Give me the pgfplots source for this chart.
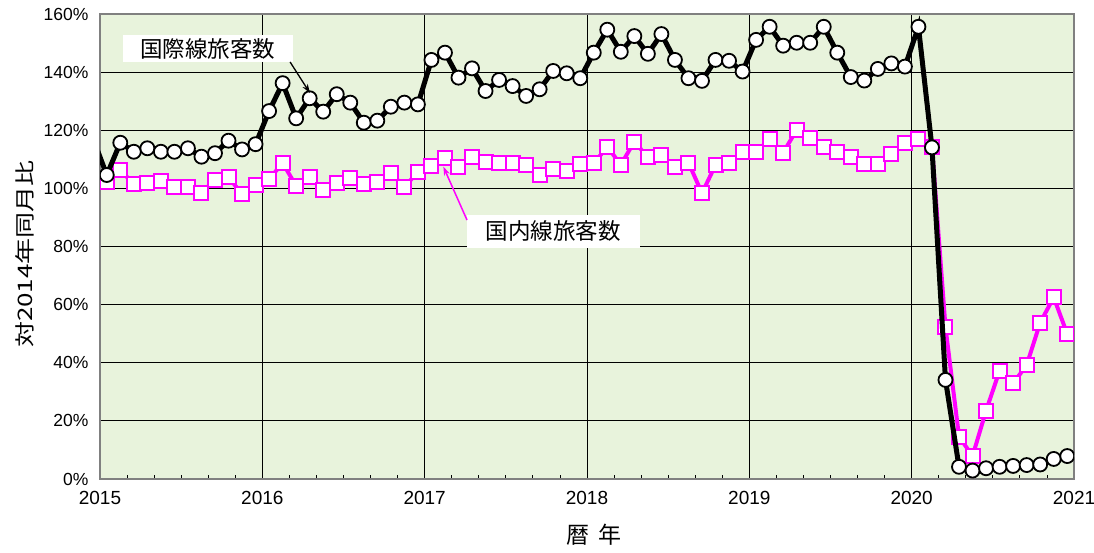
\documentclass[border=0pt]{standalone}
\usepackage{fontspec}
\setmainfont{Liberation Sans}
\newfontfamily\jp{Noto Sans CJK JP}
\usepackage{pgfplots}
\usepackage{pgfplotstable}
\pgfplotsset{compat=1.18}
\usetikzlibrary{arrows.meta}
\definecolor{bggreen}{RGB}{232,243,220}
\definecolor{mag}{RGB}{255,0,255}
\definecolor{frame}{RGB}{128,128,128}

\pgfplotstableread{
x intl dom
-0.5 117.0 101.0
0.5 104.6 102.2
1.5 115.7 106.3
2.5 112.6 101.5
3.5 113.8 102.0
4.5 112.6 102.7
5.5 112.6 100.4
6.5 113.8 100.4
7.5 110.9 98.5
8.5 112.1 102.9
9.5 116.4 103.8
10.5 113.4 98.1
11.5 115.2 101.2
12.5 126.6 103.1
13.5 136.2 108.8
14.5 124.1 100.8
15.5 131.0 104.0
16.5 126.4 99.5
17.5 132.4 102.0
18.5 129.5 103.5
19.5 122.6 101.5
20.5 123.3 102.3
21.5 128.1 105.4
22.5 129.5 100.4
23.5 128.9 105.7
24.5 144.2 107.7
25.5 146.7 110.4
26.5 138.1 107.5
27.5 141.3 110.7
28.5 133.5 109.2
29.5 137.3 108.6
30.5 135.2 108.6
31.5 131.8 108.1
32.5 134.1 104.6
33.5 140.4 106.6
34.5 139.6 106.1
35.5 137.9 108.4
36.5 146.7 108.6
37.5 154.6 114.3
38.5 147.0 108.1
39.5 152.4 116.1
40.5 146.3 110.7
41.5 153.1 111.5
42.5 144.2 107.5
43.5 137.9 108.9
44.5 137.0 98.3
45.5 144.2 108.1
46.5 143.9 108.9
47.5 140.2 112.6
48.5 151.1 112.6
49.5 155.6 116.9
50.5 149.1 112.3
51.5 150.1 120.1
52.5 150.1 117.2
53.5 155.6 114.4
54.5 146.7 112.6
55.5 138.3 110.7
56.5 137.1 108.4
57.5 141.1 108.4
58.5 143.0 111.8
59.5 141.9 115.5
60.5 155.6 116.9
61.5 114.1 114.4
62.5 34.1 52.2
63.5 4.2 14.6
64.5 2.9 7.9
65.5 3.7 23.5
66.5 4.2 37.3
67.5 4.5 32.9
68.5 4.8 39.2
69.5 5.0 53.8
70.5 6.9 62.5
71.5 7.9 49.9
}\data

\begin{document}
\begin{tikzpicture}
\path[use as bounding box] (0,0) rectangle (1094pt,552pt);
\begin{axis}[
  at={(100pt,73pt)}, anchor=south west,
  scale only axis, width=974pt, height=465pt,
  xmin=0, xmax=72, ymin=0, ymax=160,
  xtick={0,12,...,72},
  xticklabels={2015,2016,2017,2018,2019,2020,2021},
  minor x tick num=5,
  ytick={0,20,...,160},
  yticklabel={\pgfmathprintnumber{\tick}\%},
  /pgf/number format/assume math mode=true,
  xticklabel style={font=\fontsize{19}{21}\selectfont, yshift=-9pt},
  yticklabel style={font=\fontsize{17.5}{20}\selectfont, xshift=-8pt},
  grid=major,
  major grid style={black, line width=0.9pt},
  major tick length=0pt,
  minor tick length=4pt,
  minor tick style={black, line width=0.8pt},
  ytick style={draw=none},
  xtick pos=bottom,
  axis line style={frame, line width=2.2pt},
  axis background/.style={fill=bggreen},
  clip marker paths=true,
]
\addplot[mag, line width=4pt, mark=square*, mark size=7pt,
  mark options={fill=white, draw=mag, line width=2pt}]
  table[x=x, y=dom] {\data};
\addplot[black, line width=5pt, mark=*, mark size=7pt,
  mark options={fill=white, draw=black, line width=1.8pt}]
  table[x=x, y=intl] {\data};

\node[fill=white, minimum width=170pt, minimum height=27pt, inner sep=0pt,
  font=\jp\fontsize{22.5}{24}\selectfont] at (axis cs:7.98,148.1) {国際線旅客数};
\draw[-{Stealth[length=9pt,width=6pt]}, black, line width=1.3pt]
  (axis cs:14.05,143.5) -- (axis cs:15.52,132.8);
\node[fill=white, minimum width=173pt, minimum height=33pt, inner sep=0pt,
  font=\jp\fontsize{22.5}{24}\selectfont] at (axis cs:33.52,85.2) {国内線旅客数};
\draw[-{Stealth[length=9pt,width=6pt]}, mag, line width=1.5pt]
  (axis cs:27.13,89.1) -- (axis cs:25.38,107.5);
\end{axis}
\node[rotate=90, font=\jp\fontsize{20}{22}\selectfont] at (25pt,298pt) {\scalebox{1.3}[1]{対2014年同月比}};
\node[font=\jp\fontsize{23}{25}\selectfont] at (594pt,17pt) {暦\hspace{0.35em}年};
\end{tikzpicture}
\end{document}
